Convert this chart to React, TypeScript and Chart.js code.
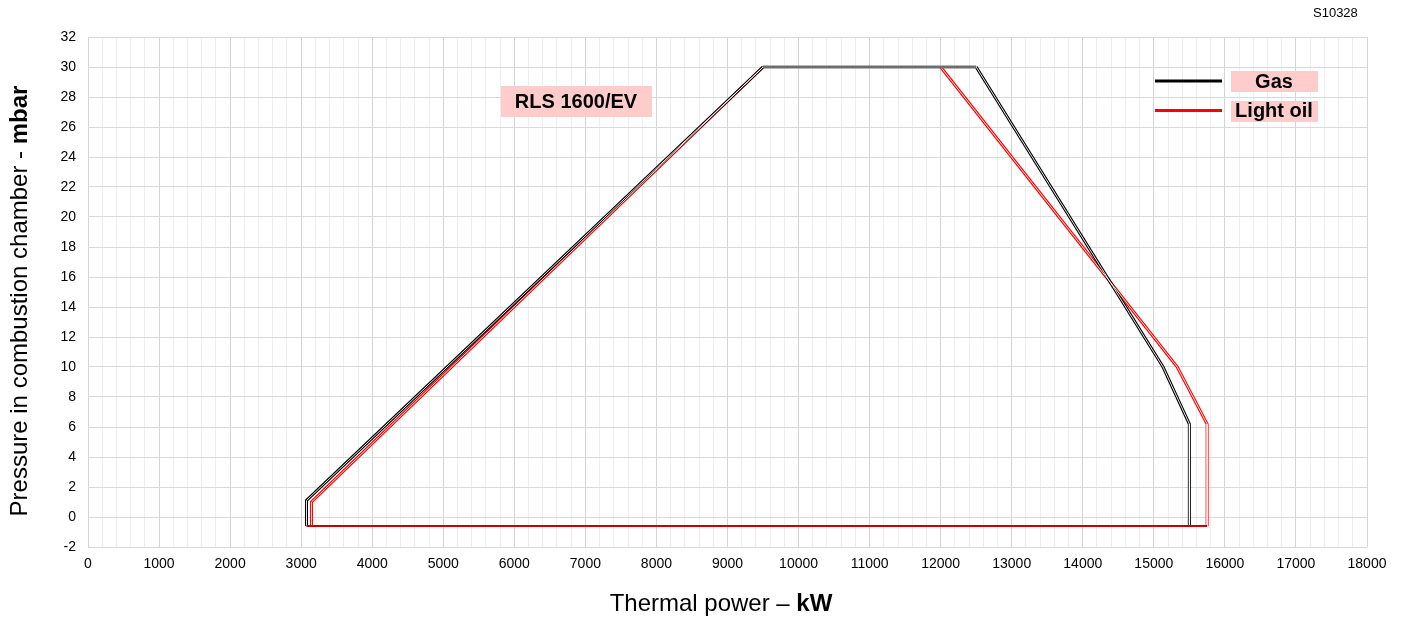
import React, { useEffect, useRef } from "react";
import { Chart, registerables } from "chart.js";

Chart.register(...registerables);

// Gas envelope (kW, mbar)
const gasLeftPower = [3075, 3075, 9500];
const gasLeftPressure = [-0.6, 1.1, 30];
const gasRightPower = [12500, 15130, 15500, 15500];
const gasRightPressure = [30, 10, 6.2, -0.6];

// Light oil envelope (kW, mbar)
const oilLeftPower = [3145, 3145, 9500];
const oilLeftPressure = [-0.6, 1.0, 30];
const oilRightPower = [12000, 15330, 15750, 15750];
const oilRightPressure = [30, 10, 6.2, -0.6];

// Shared top and bottom edges
const topPower = [9500, 12500];
const topPressure = [30, 30];
const bottomPower = [3075, 15750];
const bottomPressure = [-0.6, -0.6];

const xTickLabels = ["0", "1000", "2000", "3000", "4000", "5000", "6000", "7000", "8000", "9000", "10000", "11000", "12000", "13000", "14000", "15000", "16000", "17000", "18000"];
const yTickValues = [-2, 0, 2, 4, 6, 8, 10, 12, 14, 16, 18, 20, 22, 24, 26, 28, 30, 32];

const FONT = "'Liberation Sans', Arial, sans-serif";

const pts = (xs: number[], ys: number[]) => xs.map((x, i) => ({ x, y: ys[i] }));

const overlayPlugin = {
  id: "overlay",
  afterDraw(chart: any) {
    const ctx = chart.ctx as CanvasRenderingContext2D;
    ctx.save();

    // Code top right
    ctx.fillStyle = "#000";
    ctx.font = `13px ${FONT}`;
    ctx.textAlign = "left";
    ctx.textBaseline = "middle";
    ctx.fillText("S10328", 1313, 13);

    // Model label
    ctx.fillStyle = "#ffcccc";
    ctx.fillRect(501, 86, 151, 31);
    ctx.fillStyle = "#000";
    ctx.font = `bold 20px ${FONT}`;
    ctx.textAlign = "center";
    ctx.fillText("RLS 1600/EV", 576, 102);

    // Legend
    ctx.lineWidth = 3;
    ctx.strokeStyle = "#000";
    ctx.beginPath();
    ctx.moveTo(1155, 81);
    ctx.lineTo(1222, 81);
    ctx.stroke();
    ctx.strokeStyle = "#ff0000";
    ctx.beginPath();
    ctx.moveTo(1155, 110.5);
    ctx.lineTo(1222, 110.5);
    ctx.stroke();
    ctx.fillStyle = "#ffcccc";
    ctx.fillRect(1231, 71, 87, 21);
    ctx.fillRect(1231, 101, 87, 21);
    ctx.fillStyle = "#000";
    ctx.fillText("Gas", 1274, 82);
    ctx.fillText("Light oil", 1274, 111);

    // X axis title
    const xa = "Thermal power \u2013 ";
    const xb = "kW";
    ctx.font = `24px ${FONT}`;
    const wa = ctx.measureText(xa).width;
    ctx.font = `bold 24px ${FONT}`;
    const wb = ctx.measureText(xb).width;
    const xs = 721 - (wa + wb) / 2;
    ctx.textAlign = "left";
    ctx.font = `24px ${FONT}`;
    ctx.fillText(xa, xs, 604);
    ctx.font = `bold 24px ${FONT}`;
    ctx.fillText(xb, xs + wa, 604);

    // Y axis title
    const ya = "Pressure in combustion chamber - ";
    const yb = "mbar";
    ctx.font = `24px ${FONT}`;
    const ha = ctx.measureText(ya).width;
    ctx.font = `bold 24px ${FONT}`;
    const hb = ctx.measureText(yb).width;
    ctx.translate(20, 301);
    ctx.rotate(-Math.PI / 2);
    const ys = -(ha + hb) / 2;
    ctx.font = `24px ${FONT}`;
    ctx.fillText(ya, ys, 0);
    ctx.font = `bold 24px ${FONT}`;
    ctx.fillText(yb, ys + ha, 0);

    ctx.restore();
  },
};

export default function App() {
  const ref = useRef<HTMLCanvasElement | null>(null);

  useEffect(() => {
    if (!ref.current) return;
    const outline = (data: any[], color: string) => ({
      data,
      borderColor: color,
      borderWidth: 3,
      pointRadius: 0,
      tension: 0,
      fill: false,
      order: 3,
    });
    const inner = (data: any[]) => ({
      data,
      borderColor: "rgba(255,255,255,0.9)",
      borderWidth: 1,
      pointRadius: 0,
      tension: 0,
      fill: false,
      order: 2,
    });
    const chart = new Chart(ref.current, {
      type: "line",
      data: {
        datasets: [
          outline(pts(gasLeftPower, gasLeftPressure), "#000000"),
          inner(pts(gasLeftPower, gasLeftPressure)),
          outline(pts(gasRightPower, gasRightPressure), "#000000"),
          inner(pts(gasRightPower, gasRightPressure)),
          outline(pts(oilLeftPower, oilLeftPressure), "#ff0000"),
          inner(pts(oilLeftPower, oilLeftPressure)),
          outline(pts(oilRightPower, oilRightPressure), "#ff0000"),
          inner(pts(oilRightPower, oilRightPressure)),
          { ...outline(pts(topPower, topPressure), "#6e6e6e"), borderWidth: 3, order: 1 },
          { ...outline(pts(bottomPower, bottomPressure), "#c80000"), borderWidth: 2, order: 1 },
        ] as any,
      },
      options: {
        animation: false,
        responsive: true,
        maintainAspectRatio: false,
        layout: { padding: { top: 37, right: 38, bottom: 0, left: 0 } },
        plugins: {
          legend: { display: false },
          tooltip: { enabled: false },
        },
        scales: {
          x: {
            type: "linear",
            min: 0,
            max: 18000,
            afterFit: (s: any) => {
              s.height = 71;
            },
            ticks: {
              stepSize: 200,
              autoSkip: false,
              maxRotation: 0,
              padding: 9,
              color: "#000",
              font: { family: FONT, size: 14 },
              callback: (v: any) => {
                const n = Math.round(Number(v));
                return n % 1000 === 0 ? xTickLabels[n / 1000] : "";
              },
            },
            grid: {
              drawTicks: false,
              color: (c: any) => {
                const n = Math.round(c.tick?.value ?? 0);
                return n % 1000 === 0 ? "#d4d4d4" : "#eeeeee";
              },
              lineWidth: 1,
            },
            border: { display: false },
          },
          y: {
            type: "linear",
            min: -2,
            max: 32,
            afterFit: (s: any) => {
              s.width = 88;
            },
            afterBuildTicks: (s: any) => {
              s.ticks = yTickValues.map((v) => ({ value: v }));
            },
            ticks: {
              padding: 12,
              color: "#000",
              font: { family: FONT, size: 14 },
            },
            grid: {
              drawTicks: false,
              color: "#d9d9d9",
              lineWidth: 1,
            },
            border: { display: false },
          },
        },
      },
      plugins: [overlayPlugin],
    });
    return () => chart.destroy();
  }, []);

  return (
    <div style={{ position: "absolute", left: 0, top: 0, width: 1405, height: 618, background: "#fff" }}>
      <canvas ref={ref} />
    </div>
  );
}
